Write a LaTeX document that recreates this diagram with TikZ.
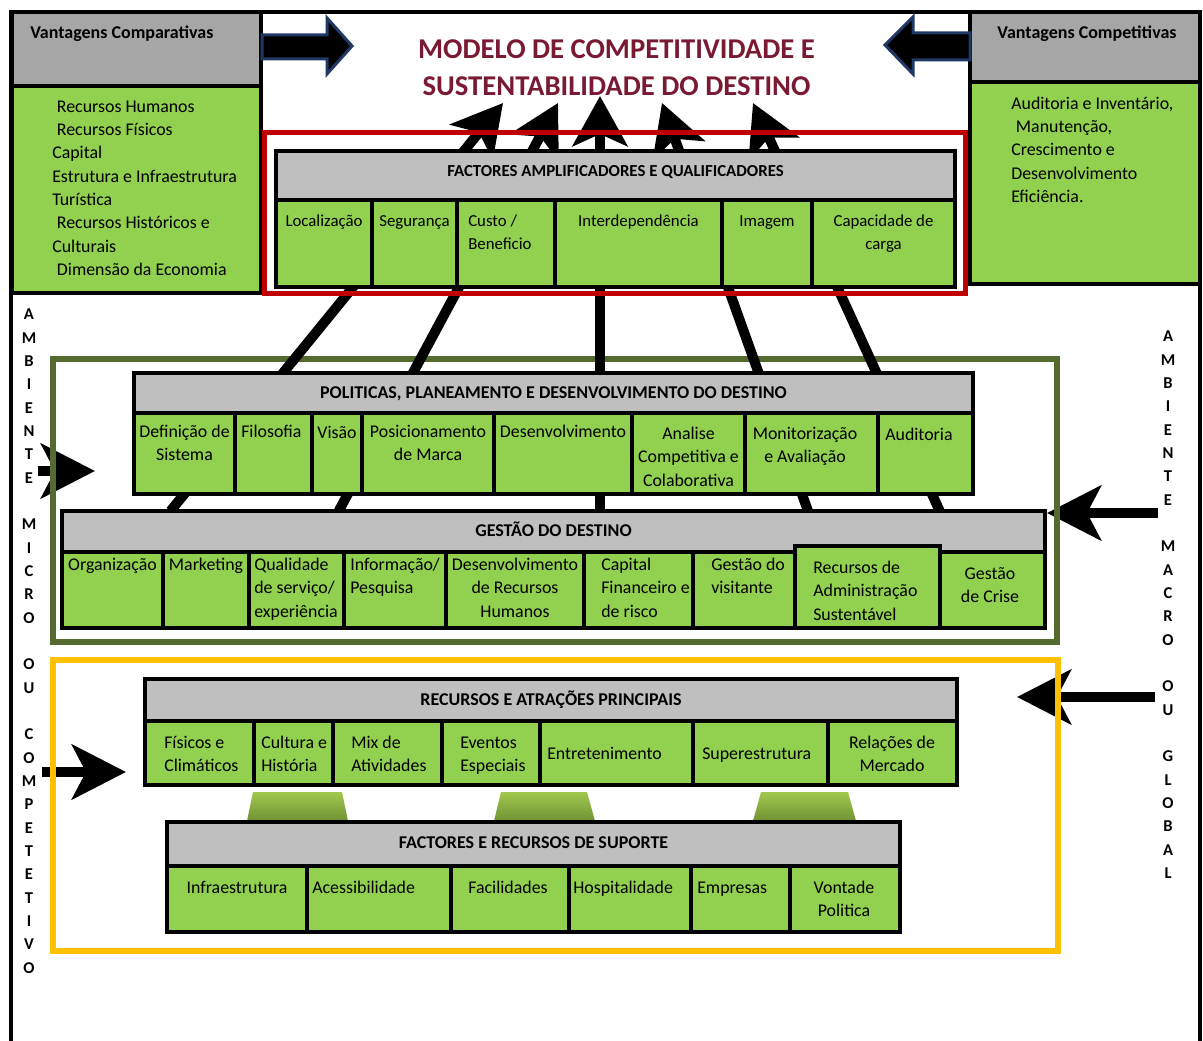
\documentclass[tikz,border=0pt]{standalone}
\usepackage{fontspec}
\setmainfont{Carlito}
\usetikzlibrary{arrows.meta,fit}

\definecolor{cellgreen}{HTML}{92D050}
\definecolor{headgray}{HTML}{BFBFBF}
\definecolor{boxgray}{HTML}{A6A6A6}
\definecolor{framered}{HTML}{C00000}
\definecolor{frameolive}{RGB}{84,106,46}
\definecolor{frameyellow}{HTML}{FFC000}
\definecolor{titlered}{RGB}{122,26,50}
\definecolor{arrowblue}{RGB}{31,56,100}
\definecolor{trapTop}{RGB}{160,200,78}
\definecolor{trapBot}{RGB}{112,146,52}

% one green cell of a table: name, x1, y1, x2, y2, text placement style, text position, text
\newcommand\tcell[8]{%
  \node[cell, fit={(#2,#3) (#4,#5)}] (#1) {};
  \node[txt, #6] (#1-t) at (#7) {\strut #8};}

\begin{document}
\begin{tikzpicture}[x=0.75pt,y=-0.75pt,
  cell/.style={draw=black, line width=2.6pt, fill=cellgreen, inner sep=0pt, outer sep=0pt},
  head/.style={draw=black, line width=2.6pt, fill=headgray, inner sep=0pt, outer sep=0pt},
  txt/.style={inner sep=0pt, font=\fontsize{13.4}{17.5}\selectfont},
  smalltxt/.style={font=\fontsize{12.6}{17.5}\selectfont},
  ctr/.style={anchor=north, align=center},
  lft/.style={anchor=north west, align=left},
  htxt/.style={inner sep=0pt, anchor=base, font=\fontsize{13.5}{15}\selectfont\bfseries},
  smallhtxt/.style={font=\fontsize{12.6}{15}\selectfont\bfseries},
  upline/.style={line width=7.5pt, -{Stealth[length=37.5pt,width=41pt,inset=9pt]}},
  sidearrow/.style={line width=7.5pt, -{Stealth[length=40.5pt,width=41pt,inset=10.5pt]}},
  envframe/.style={line width=4.5pt},
  vletters/.style={inner sep=0pt, anchor=north, align=center, font=\fontsize{12.4}{17.5}\selectfont\bfseries},
  blockarrow/.style={fill=black, draw=arrowblue, line width=2.25pt, line join=miter},
]
\useasboundingbox (0,0) rectangle (1203,1041);
\fill[white] (0,0) rectangle (1203,1041);

% outer frame
\draw[line width=3pt] (11,1050) -- (11,12) -- (1200,12) -- (1200,1050);

% comparative advantages
\node[draw=black, line width=2.6pt, fill=boxgray, inner sep=0pt, fit={(12,12) (261,86)}] (vcomp) {};
\node[cell, fit={(12,86) (261,293)}] (vcomp-list) {};
\node[htxt, anchor=base west] (vcomp-t) at (30,39) {Vantagens Comparativas};
\node[txt, lft] (vcomp-list-t) at (52,95.6) {\strut\hspace*{3.5pt}Recursos Humanos\\\hspace*{3.5pt}Recursos Físicos\\Capital\\Estrutura e Infraestrutura\\Turística\\\hspace*{3.5pt}Recursos Históricos e\\Culturais\\\hspace*{3.5pt}Dimensão da Economia};

% competitive advantages
\node[draw=black, line width=2.6pt, fill=boxgray, inner sep=0pt, fit={(970,12) (1200,82)}] (vcomt) {};
\node[cell, fit={(970,82) (1200,284)}] (vcomt-list) {};
\node[htxt] (vcomt-t) at (1087,39) {Vantagens Competitivas};
\node[txt, lft] (vcomt-list-t) at (1011,92.6) {\strut Auditoria e Inventário,\\\hspace*{3.5pt}Manutenção,\\Crescimento e\\Desenvolvimento\\Eficiência.};

% block arrows towards the title
\draw[blockarrow] (262,35) -- (327,35) -- (327,18) -- (352,46) -- (327,74) -- (327,59) -- (262,59) -- cycle;
\draw[blockarrow] (970,33) -- (913,33) -- (913,17) -- (885,45) -- (913,74) -- (913,60) -- (970,60) -- cycle;

% title
\node[inner sep=0pt, anchor=north, align=center, text=titlered, font=\fontsize{21.5}{27.75}\selectfont\bfseries] (title) at (616.5,32) {\strut MODELO DE COMPETITIVIDADE E\\SUSTENTABILIDADE DO DESTINO};

% environment arrows
\coordinate (mi1a) at (38,471);   \coordinate (mi1b) at (95,471);
\coordinate (mi2a) at (42,772);   \coordinate (mi2b) at (126,772);
\coordinate (ma1a) at (1158,513); \coordinate (ma1b) at (1047,513);
\coordinate (ma2a) at (1155,697); \coordinate (ma2b) at (1017,697);
\draw[sidearrow] (mi1a) -- (mi1b);
\draw[sidearrow] (mi2a) -- (mi2b);
\draw[sidearrow] (ma1a) -- (ma1b);
\draw[sidearrow] (ma2a) -- (ma2b);

% group frames
\draw[envframe, frameolive] (53,359) rectangle (1057,642);
\draw[envframe, frameyellow] (53,660) rectangle (1058,951);

% links rising to the title
\coordinate (u1s) at (170.5,511); \coordinate (u1e) at (503,103);
\coordinate (u2s) at (338.7,511); \coordinate (u2e) at (558,103);
\coordinate (u3s) at (600,511);   \coordinate (u3e) at (600,96);
\coordinate (u4s) at (808,511);   \coordinate (u4e) at (662,103);
\coordinate (u5s) at (939.7,511); \coordinate (u5e) at (753,103);
\foreach \i in {1,...,5} \draw[upline] (u\i s) -- (u\i e);

% amplifying and qualifying factors
\node[head, fit={(276,151) (955,200)}] (fh) {};
\node[htxt, smallhtxt] (fh-t) at (615.5,177) {FACTORES AMPLIFICADORES E QUALIFICADORES};
\tcell{fa1}{276}{200}{372}{287}{ctr,smalltxt}{324,210}{Localização}
\tcell{fa2}{372}{200}{457}{287}{ctr,smalltxt}{414.5,210}{Segurança}
\tcell{fa3}{457}{200}{555}{287}{lft,smalltxt}{468,210}{Custo /\\Beneficio}
\tcell{fa4}{555}{200}{722}{287}{ctr,smalltxt}{638.5,210}{Interdependência}
\tcell{fa5}{722}{200}{812}{287}{ctr,smalltxt}{767,210}{Imagem}
\tcell{fa6}{812}{200}{955}{287}{ctr,smalltxt}{883.5,210}{Capacidade de\\carga}
\draw[line width=3.75pt, framered] (264,133) rectangle (965,294);

% policy, planning and development
\node[head, fit={(134,373) (973,413)}] (ph) {};
\node[htxt] (ph-t) at (553.5,398.5) {POLITICAS, PLANEAMENTO E DESENVOLVIMENTO DO DESTINO};
\tcell{pd1}{134}{413}{235}{494}{ctr}{184.5,421}{Definição de\\Sistema}
\tcell{pd2}{235}{413}{312}{494}{lft}{241,421}{Filosofia}
\tcell{pd3}{312}{413}{362}{494}{ctr}{337,422}{Visão}
\tcell{pd4}{362}{413}{494}{494}{ctr}{428,421}{Posicionamento\\de Marca}
\tcell{pd5}{494}{413}{632}{494}{ctr}{563,421}{Desenvolvimento}
\tcell{pd6}{632}{413}{745}{494}{ctr}{688.5,423}{Analise\\Competitiva e\\Colaborativa}
\tcell{pd7}{745}{413}{878}{494}{ctr}{805,423}{Monitorização\\e Avaliação}
\tcell{pd8}{878}{413}{973}{494}{lft}{885,424}{Auditoria}

% destination management
\node[head, fit={(62,511) (1045,552)}] (gh) {};
\node[htxt] (gh-t) at (553.5,536.5) {GESTÃO DO DESTINO};
\tcell{gd1}{62}{552}{163}{628}{ctr}{112.5,554}{Organização}
\tcell{gd2}{163}{552}{249}{628}{ctr}{206,554}{Marketing}
\tcell{gd3}{249}{552}{344}{628}{lft}{254,554}{Qualidade\\de serviço/\\experiência}
\tcell{gd4}{344}{552}{446}{628}{lft}{350,554}{Informação/\\Pesquisa}
\tcell{gd5}{446}{552}{584}{628}{ctr}{515,554}{Desenvolvimento\\de Recursos\\Humanos}
\tcell{gd6}{584}{552}{693}{628}{lft}{601,554}{Capital\\Financeiro e\\de risco}
\tcell{gd7}{693}{552}{795}{628}{lft}{711,554}{Gestão do\\visitante}
\tcell{gd9}{940}{552}{1045}{628}{ctr}{990,563}{Gestão\\de Crise}
\tcell{gd8}{795}{546}{940}{628}{lft}{813,557}{Recursos de\\Administração\\Sustentável}

% core resources and attractors
\node[head, fit={(145,679) (957,721)}] (rh) {};
\node[htxt] (rh-t) at (551,705.5) {RECURSOS E ATRAÇÕES PRINCIPAIS};
\tcell{ra1}{145}{721}{254}{785}{lft}{164,732}{Físicos e\\Climáticos}
\tcell{ra2}{254}{721}{333}{785}{lft}{261,732}{Cultura e\\História}
\tcell{ra3}{333}{721}{442}{785}{lft}{351,732}{Mix de\\Atividades}
\tcell{ra4}{442}{721}{540}{785}{lft}{460,732}{Eventos\\Especiais}
\tcell{ra5}{540}{721}{693}{785}{lft}{547,743}{Entretenimento}
\tcell{ra6}{693}{721}{828}{785}{lft}{702,743}{Superestrutura}
\tcell{ra7}{828}{721}{957}{785}{ctr}{892,732}{Relações de\\Mercado}

% supports between the two lower tables
\shade[top color=trapTop, bottom color=trapBot] (253,792) -- (342,792) -- (348,821) -- (247,821) -- cycle;
\shade[top color=trapTop, bottom color=trapBot] (501,792) -- (587,792) -- (595,821) -- (494,821) -- cycle;
\shade[top color=trapTop, bottom color=trapBot] (761,792) -- (848,792) -- (856,821) -- (753,821) -- cycle;

% supporting factors and resources
\node[head, fit={(167,822) (900,866)}] (sh) {};
\node[htxt] (sh-t) at (533.5,848.5) {FACTORES E RECURSOS DE SUPORTE};
\tcell{fs1}{167}{866}{307}{932}{ctr}{237,877}{Infraestrutura}
\tcell{fs2}{307}{866}{451}{932}{lft}{312,877}{Acessibilidade}
\tcell{fs3}{451}{866}{569}{932}{ctr}{508,877}{Facilidades}
\tcell{fs4}{569}{866}{691}{932}{lft}{573,877}{Hospitalidade}
\tcell{fs5}{691}{866}{790}{932}{lft}{697,877}{Empresas}
\tcell{fs6}{790}{866}{900}{932}{ctr}{844,877}{Vontade\\Politica}

% environment labels
\node[vletters] (micro) at (29,303.2) {\strut A\\M\\B\\I\\E\\N\\T\\E\\\mbox{}\\M\\I\\C\\R\\O\\\mbox{}\\O\\U\\\mbox{}\\C\\O\\M\\P\\E\\T\\E\\T\\I\\V\\O};
\node[vletters] (macro) at (1168,325.2) {\strut A\\M\\B\\I\\E\\N\\T\\E\\\mbox{}\\M\\A\\C\\R\\O\\\mbox{}\\O\\U\\\mbox{}\\G\\L\\O\\B\\A\\L};
\end{tikzpicture}
\end{document}
